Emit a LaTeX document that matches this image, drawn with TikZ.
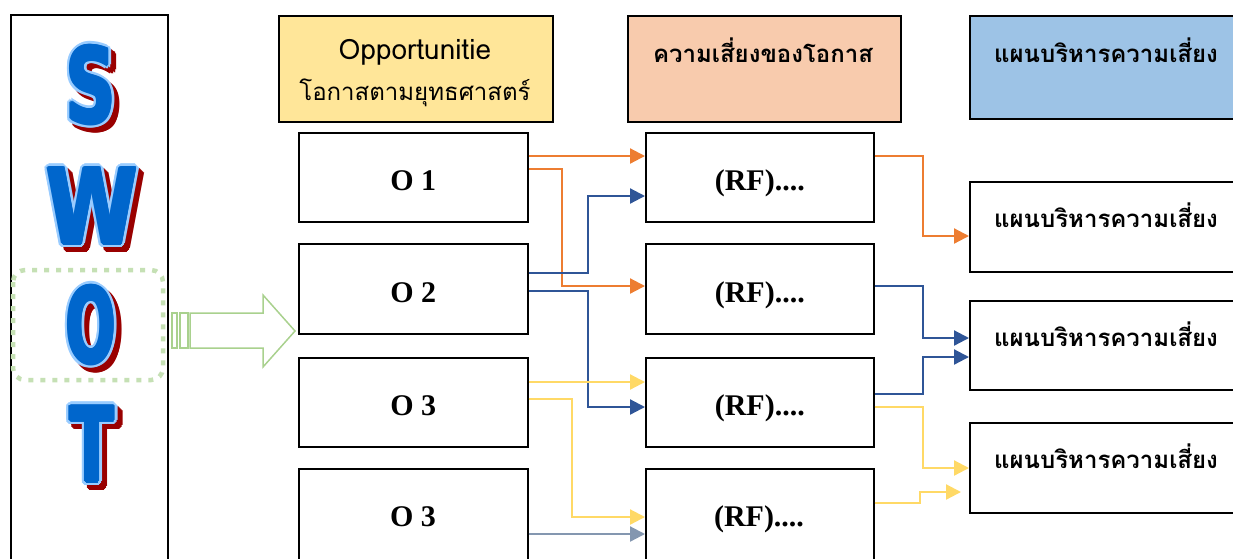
\documentclass[tikz,border=0pt]{standalone}
\usepackage{fontspec}
\setmainfont{Liberation Serif}
\newfontfamily\thaifont[Script=Thai]{Loma}
\newfontfamily\swotfont{DejaVu Sans}
\usetikzlibrary{arrows.meta,calc}
\definecolor{hdrY}{HTML}{FFE699}
\definecolor{hdrO}{HTML}{F8CBAD}
\definecolor{hdrB}{HTML}{9DC3E6}
\definecolor{cOr}{HTML}{ED7D31}
\definecolor{cBl}{HTML}{2F5597}
\definecolor{cYe}{HTML}{FFD966}
\definecolor{cGr}{HTML}{8497B0}
\definecolor{lgreen}{HTML}{C5E0B4}
\definecolor{mgreen}{HTML}{A9D18E}
\definecolor{swBlue}{HTML}{0066CC}
\definecolor{swLight}{HTML}{99CCFF}
\definecolor{swRed}{HTML}{990000}
\newcommand\swotletter[4]{%
  \foreach \a in {0,22.5,...,337.5} {\node[swl, text=swRed] at ($(#2)+(\a:4)+(5,5)$) {\scalebox{#4}[1]{#3}};}
  \foreach \a in {0,22.5,...,337.5} {\node[swl, text=swLight] at ($(#2)+(\a:4)$) {\scalebox{#4}[1]{#3}};}
  \foreach \a in {0,45,...,315} {\node[swl, text=swBlue] at ($(#2)+(\a:1.3)$) {\scalebox{#4}[1]{#3}};}
  \node[swl, text=swBlue] (#1) at (#2) {\scalebox{#4}[1]{#3}};
}
\begin{document}
\begin{tikzpicture}[x=1pt,y=-1pt,
  box/.style={draw=black, line width=1.6pt, fill=white, anchor=north west, inner sep=0pt,
     font=\bfseries\fontsize{30}{36}\selectfont, text height=27pt, text depth=0pt},
  th/.style={font=\thaifont\fontsize{24}{28}\selectfont, inner sep=0pt},
  thb/.style={font=\thaifont\bfseries\fontsize{24}{28}\selectfont, inner sep=0pt},
  swl/.style={font=\swotfont\bfseries\fontsize{104}{110}\selectfont, inner sep=0pt},
  arr/.style={line width=2.2pt, -{Triangle[length=15pt,width=15pt]}},
  ]
\clip (0,0) rectangle (1233,558);
% SWOT column
\node[box, minimum width=157pt, minimum height=560pt] (swot) at (10,14) {};
\swotletter{lS}{91,85}{S}{0.66}
\swotletter{lW}{92,206}{W}{0.8}
\swotletter{lO}{91,325}{O}{0.56}
\swotletter{lT}{92,444}{T}{0.62}
\draw[lgreen, line width=4.5pt, dash pattern=on 5pt off 7pt, rounded corners=12pt] (13,270) rectangle (163,380);
% block arrow
\begin{scope}[draw=mgreen, line width=1.5pt, fill=white]
\draw (172,313) rectangle (177,348);
\draw (180,313) rectangle (188,348);
\draw (190,313) -- (263,313) -- (263,295) -- (295,331) -- (263,367) -- (263,348) -- (190,348) -- cycle;
\end{scope}
% headers
\node[box, fill=hdrY, minimum width=274pt, minimum height=106pt] (h1) at (278,15) {};
\node[box, fill=hdrO, minimum width=273pt, minimum height=106pt] (h2) at (627,15) {};
\node[box, fill=hdrB, minimum width=300pt, minimum height=103pt] (h3) at (969,15) {};
\node[font=\thaifont\fontsize{28}{32}\selectfont, inner sep=0pt] (h1a) at (415,52) {Opportunitie};
\node[th] (h1b) at (415,93) {โอกาสตามยุทธศาสตร์};
\node[thb] (h2t) at (763,50) {ความเสี่ยงของโอกาส};
\node[thb] (h3t) at (1106,50) {แผนบริหารความเสี่ยง};
% O boxes
\node[box, minimum width=229pt, minimum height=89pt] (o1) at (298,132) {O 1};
\node[box, minimum width=229pt, minimum height=90pt] (o2) at (298,243) {O 2};
\node[box, minimum width=229pt, minimum height=89pt] (o3) at (298,357) {O 3};
\node[box, minimum width=229pt, minimum height=102pt] (o4) at (298,468) {};
\node[font=\bfseries\fontsize{30}{36}\selectfont, inner sep=0pt] (o4t) at (413,517) {O 3};
% RF boxes
\node[box, minimum width=228pt, minimum height=89pt] (rf1) at (645,132) {(RF)....};
\node[box, minimum width=228pt, minimum height=90pt] (rf2) at (645,243) {(RF)....};
\node[box, minimum width=228pt, minimum height=89pt] (rf3) at (645,357) {(RF)....};
\node[box, minimum width=228pt, minimum height=102pt] (rf4) at (645,468) {};
\node[font=\bfseries\fontsize{30}{36}\selectfont, inner sep=0pt] (rf4t) at (759,519) {(RF)....};
% plan boxes
\node[box, minimum width=300pt, minimum height=90pt] (p1) at (969,181) {};
\node[box, minimum width=300pt, minimum height=89pt] (p2) at (969,300) {};
\node[box, minimum width=300pt, minimum height=90pt] (p3) at (969,422) {};
\node[thb] (p1t) at (1106,215) {แผนบริหารความเสี่ยง};
\node[thb] (p2t) at (1106,334) {แผนบริหารความเสี่ยง};
\node[thb] (p3t) at (1106,456) {แผนบริหารความเสี่ยง};
\coordinate (p3in) at ([xshift=-8pt,yshift=-70pt]p3.north west);
% connectors left
\draw[arr, cOr] ([yshift=-24pt]o1.north east) -- ([yshift=-24pt]rf1.north west);
\draw[arr, cOr] ([yshift=-37pt]o1.north east) -- ++(33,0) |- ([yshift=-43pt]rf2.north west);
\draw[arr, cBl] ([yshift=-30pt]o2.north east) -- ++(59,0) |- ([yshift=-64pt]rf1.north west);
\draw[arr, cBl] ([yshift=-48pt]o2.north east) -- ++(59,0) |- ([yshift=-50pt]rf3.north west);
\draw[arr, cYe] ([yshift=-25pt]o3.north east) -- ([yshift=-25pt]rf3.north west);
\draw[arr, cYe] ([yshift=-42pt]o3.north east) -- ++(43,0) |- ([yshift=-49pt]rf4.north west);
\draw[arr, cGr] ([yshift=-66pt]o4.north east) -- ([yshift=-66pt]rf4.north west);
% connectors right
\draw[arr, cOr] ([yshift=-24pt]rf1.north east) -- ++(48,0) |- ([yshift=-55pt]p1.north west);
\draw[arr, cBl] ([yshift=-43pt]rf2.north east) -- ++(48,0) |- ([yshift=-38pt]p2.north west);
\draw[arr, cBl] ([yshift=-37pt]rf3.north east) -- ++(48,0) |- ([yshift=-57pt]p2.north west);
\draw[arr, cYe] ([yshift=-50pt]rf3.north east) -- ++(48,0) |- ([yshift=-46pt]p3.north west);
\draw[arr, cYe] ([yshift=-35pt]rf4.north east) -- ++(45,0) |- (p3in);
\end{tikzpicture}
\end{document}
